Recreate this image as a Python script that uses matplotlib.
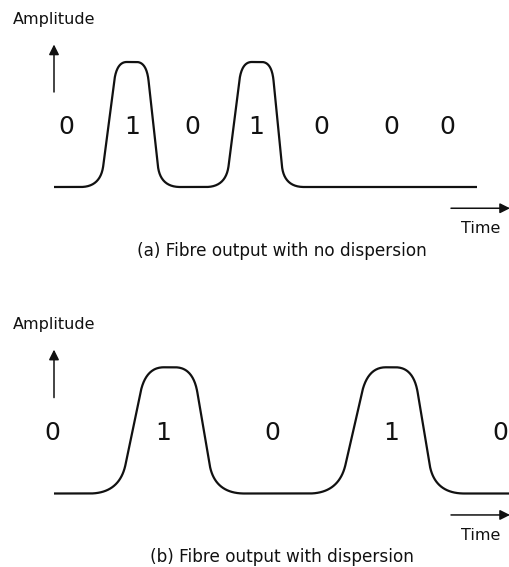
import numpy as np
import matplotlib
matplotlib.use("Agg")
import matplotlib.pyplot as plt

# ---- bit pattern and pulse timing (time in arbitrary units) ----
# (a) output with no dispersion
bits_a = ["0", "1", "0", "1", "0", "0", "0"]
bit_time_a = [66, 132, 192.5, 256.5, 321, 391, 447.5]
rise_start_a = [100.5, 225.9]
rise_end_a = [116.7, 241.7]
fall_start_a = [146.5, 271.7]
fall_end_a = [160.2, 284.0]
trace_span_a = (54, 477)

# (b) output with dispersion: pulses broadened
bits_b = ["0", "1", "0", "1", "0"]
bit_time_b = [52.5, 163.3, 272.5, 391, 500.5]
rise_start_b = [119.5, 338.9]
rise_end_b = [145.7, 367.7]
fall_start_b = [193.1, 413.5]
fall_end_b = [214.5, 434.4]
trace_span_b = (54, 510)

captions = ["(a) Fibre output with no dispersion",
            "(b) Fibre output with dispersion"]

INK = "#111111"
W, H = 510, 567


def bezier(p0, p1, p2, n=40):
    s = np.linspace(0, 1, n)[:, None]
    p0, p1, p2 = map(np.asarray, (p0, p1, p2))
    return (1 - s) ** 2 * p0 + 2 * (1 - s) * s * p1 + s ** 2 * p2


def trace(span, r0, r1, f0, f1, foot, foot_amp, cap, cap_amp):
    """Baseline with trapezoidal pulses whose corners are rounded."""
    pts = [np.array([[span[0], 0.0]])]
    for a, b, c, d in zip(r0, r1, f0, f1):
        up = lambda y: a + (b - a) * y
        down = lambda y: d - (d - c) * y
        pts.append(bezier((a - foot, 0), (a, 0), (up(foot_amp), foot_amp)))
        pts.append(bezier((up(1 - cap_amp), 1 - cap_amp), (b, 1), (b + cap, 1)))
        pts.append(bezier((c - cap, 1), (c, 1), (down(1 - cap_amp), 1 - cap_amp)))
        pts.append(bezier((down(foot_amp), foot_amp), (d, 0), (d + foot, 0)))
    pts.append(np.array([[span[1], 0.0]]))
    xy = np.vstack(pts)
    return xy[:, 0], xy[:, 1]


fig = plt.figure(figsize=(W / 100, H / 100), dpi=100)

panels = [
    dict(bits=bits_a, bt=bit_time_a, r0=rise_start_a, r1=rise_end_a,
         f0=fall_start_a, f1=fall_end_a, span=trace_span_a,
         base=187.0, top=62.0, foot=20, foot_amp=0.17, cap=10, cap_amp=0.15,
         cap_y=-0.51, caption=captions[0]),
    dict(bits=bits_b, bt=bit_time_b, r0=rise_start_b, r1=rise_end_b,
         f0=fall_start_b, f1=fall_end_b, span=trace_span_b,
         base=493.5, top=367.3, foot=30, foot_amp=0.23, cap=18, cap_amp=0.2,
         cap_y=-0.50, caption=captions[1]),
]

for p in panels:
    ax = fig.add_axes([0, 1 - p["base"] / H, 1, (p["base"] - p["top"]) / H])
    ax.set_xlim(0, W)
    ax.set_ylim(0, 1)
    ax.axis("off")

    x, y = trace(p["span"], p["r0"], p["r1"], p["f0"], p["f1"],
                 p["foot"], p["foot_amp"], p["cap"], p["cap_amp"])
    ax.plot(x, y, color=INK, lw=1.6, solid_capstyle="butt",
            solid_joinstyle="round", clip_on=False)

    for bit, t in zip(p["bits"], p["bt"]):
        ax.text(t, 0.5, bit, ha="center", va="center_baseline", fontsize=18,
                color=INK, clip_on=False)

    # amplitude axis arrow
    ax.annotate("", xy=(54, 1.14), xytext=(54, 0.76), annotation_clip=False,
                arrowprops=dict(arrowstyle="-|>", lw=1.1, color=INK,
                                mutation_scale=15, shrinkA=0, shrinkB=0))
    ax.text(54, 1.34, "Amplitude", ha="center", va="center", fontsize=11.5,
            color=INK, clip_on=False)

    # time axis arrow
    ax.annotate("", xy=(510, -0.17), xytext=(451, -0.17), annotation_clip=False,
                arrowprops=dict(arrowstyle="-|>", lw=1.1, color=INK,
                                mutation_scale=15, shrinkA=0, shrinkB=0))
    ax.text(481, -0.33, "Time", ha="center", va="center", fontsize=11.5,
            color=INK, clip_on=False)

    ax.text(282, p["cap_y"], p["caption"], ha="center", va="center",
            fontsize=12.2, color=INK, clip_on=False)

fig.savefig("out.png", dpi=100, facecolor="white")
